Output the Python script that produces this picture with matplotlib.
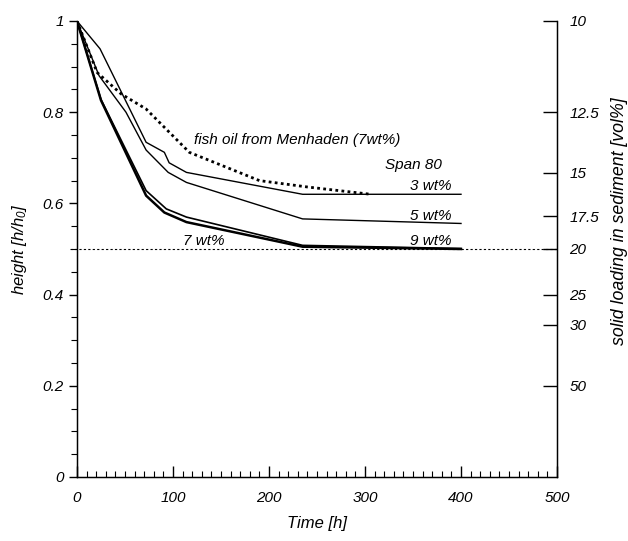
import matplotlib
matplotlib.use("Agg")
import matplotlib.pyplot as plt
from matplotlib.ticker import MultipleLocator

plt.rcParams['font.family'] = ['Liberation Sans', 'DejaVu Sans']
plt.rcParams['font.style'] = 'italic'
plt.rcParams['mathtext.fontset'] = 'custom'
plt.rcParams['mathtext.rm'] = 'Liberation Sans:italic'
plt.rcParams['mathtext.it'] = 'Liberation Sans:italic'

# Span 80 series
t_3 = [0, 24, 72, 91, 96, 114, 235, 400]
h_3 = [1.0, 0.939, 0.734, 0.712, 0.689, 0.668, 0.620, 0.620]
t_5 = [0, 23, 51, 72, 95, 114, 235, 400]
h_5 = [1.0, 0.880, 0.800, 0.717, 0.668, 0.646, 0.566, 0.556]
t_7 = [0, 25, 72, 93, 114, 235, 400]
h_7 = [1.0, 0.828, 0.628, 0.588, 0.570, 0.508, 0.501]
t_9 = [0, 25, 72, 91, 114, 235, 400]
h_9 = [1.0, 0.826, 0.617, 0.580, 0.559, 0.505, 0.500]
# fish oil from Menhaden (7wt%)
t_fish = [0, 21, 46, 72, 117, 190, 240, 306]
h_fish = [1.0, 0.887, 0.840, 0.807, 0.712, 0.650, 0.636, 0.620]

phi_ticks = [10, 12.5, 15, 17.5, 20, 25, 30, 50]
phi_labels = ['10', '12.5', '15', '17.5', '20', '25', '30', '50']

fig = plt.figure(figsize=(6.28, 5.41), dpi=100)
ax = fig.add_axes([77/628, 1-477/541, 480/628, 456/541])

ax.plot(t_3, h_3, color='black', lw=1.0)
ax.plot(t_5, h_5, color='black', lw=1.0)
ax.plot(t_7, h_7, color='black', lw=1.2)
ax.plot(t_9, h_9, color='black', lw=1.8)
ax.plot(t_fish, h_fish, color='black', lw=2.0, linestyle=(0, (1, 1.2)))

ax.plot([-7, 500], [0.5, 0.5], color='black', lw=0.8, linestyle=(0, (2, 2)), clip_on=False)

ax.set_xlim(0, 500)
ax.set_ylim(0, 1)
ax.spines['top'].set_visible(False)
ax.xaxis.set_major_locator(MultipleLocator(100))
ax.xaxis.set_minor_locator(MultipleLocator(10))
ax.yaxis.set_major_locator(MultipleLocator(0.2))
ax.yaxis.set_minor_locator(MultipleLocator(0.05))
ax.set_yticks([0, 0.2, 0.4, 0.6, 0.8, 1.0])
ax.set_yticklabels(['0', '0.2', '0.4', '0.6', '0.8', '1'])
ax.tick_params(axis='x', which='major', direction='in', length=8, width=1, labelsize=11, pad=10)
ax.tick_params(axis='x', which='minor', direction='in', length=4, width=0.8)
ax.tick_params(axis='y', which='major', direction='out', length=6, width=1, labelsize=11)
ax.tick_params(axis='y', which='minor', direction='out', length=4, width=0.8)
ax.tick_params(right=False, top=False, which='both')
for s in ['left', 'bottom', 'right']:
    ax.spines[s].set_linewidth(1.0)

ax.set_xlabel('Time [h]', fontsize=12, labelpad=8)
ax.set_ylabel('height [h/h$_0$]', fontsize=12, labelpad=10)

ax2 = ax.twinx()
ax2.set_ylim(0, 1)
ax2.spines['top'].set_visible(False)
ax2.set_yticks([10.0 / p for p in phi_ticks])
ax2.set_yticklabels(phi_labels)
ax2.tick_params(axis='y', direction='in', length=10, width=1, labelsize=11, pad=9)
fig.text(619/628, 1-221/541, 'solid loading in sediment [vol%]', rotation=90,
         ha='center', va='center', fontsize=12.8, fontstyle='italic')

txt = dict(fontsize=11, color='black', fontstyle='italic')
ax.text(122, 0.74, 'fish oil from Menhaden (7wt%)', ha='left', va='center', **txt)
ax.text(380, 0.685, 'Span 80', ha='right', va='center', **txt)
ax.text(390, 0.638, '3 wt%', ha='right', va='center', **txt)
ax.text(390, 0.573, '5 wt%', ha='right', va='center', **txt)
ax.text(390, 0.517, '9 wt%', ha='right', va='center', **txt)
ax.text(110, 0.517, '7 wt%', ha='left', va='center', **txt)

fig.savefig('out.png', dpi=100)
